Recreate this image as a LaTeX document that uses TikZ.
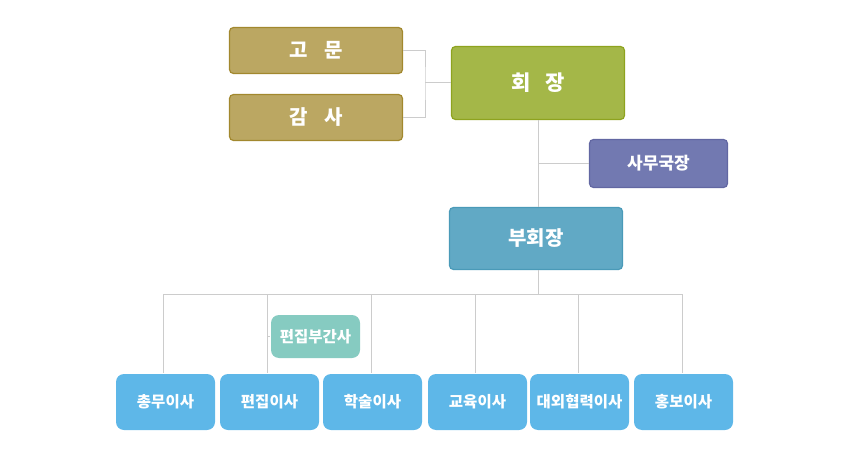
\documentclass[tikz,border=0pt]{standalone}
\usepackage{fontspec}
\setmainfont{Noto Sans CJK KR}
\usetikzlibrary{positioning}

\definecolor{gomun}{HTML}{BBA762}
\definecolor{gomunEdge}{HTML}{A2882E}
\definecolor{hoejang}{HTML}{A4B748}
\definecolor{hoejangEdge}{HTML}{8EA31F}
\definecolor{samu}{HTML}{7279B1}
\definecolor{samuEdge}{HTML}{6267A2}
\definecolor{buhoe}{HTML}{61A9C5}
\definecolor{buhoeEdge}{HTML}{4A9AB8}
\definecolor{ganSa}{HTML}{86CBC1}
\definecolor{isa}{HTML}{5EB7E8}
\definecolor{wire}{HTML}{CCCCCC}

\tikzset{every picture/.style={line width=0.75pt}}
\tikzset{
  box/.style={rectangle, rounded corners=4pt, text=white, font=\bfseries, inner sep=0pt, line width=1.2pt},
  topbox/.style={box, fill=gomun, draw=gomunEdge, minimum width=173pt, minimum height=46pt, font=\bfseries\fontsize{20}{24}\selectfont},
  isabox/.style={box, fill=isa, rounded corners=8pt, minimum width=99pt, minimum height=56pt, font=\bfseries\fontsize{15.5}{18}\selectfont},
  wireline/.style={draw=wire, line width=1pt}
}

\begin{document}
\begin{tikzpicture}[x=1pt,y=1pt,yscale=-1,xscale=1]
\useasboundingbox (0,0) rectangle (850,470);

% Top boxes
\node [topbox] (gomun) at (316,50.5) {고\hspace{0.85em}문};
\node [topbox] (gamsa) at (316,117.5) {감\hspace{0.85em}사};
\node [box, fill=hoejang, draw=hoejangEdge, minimum width=173pt, minimum height=73pt, font=\bfseries\fontsize{21}{25}\selectfont] (hoejang) at (538,83) {회\hspace{0.7em}장};
\node [box, fill=samu, draw=samuEdge, minimum width=138pt, minimum height=48pt, font=\bfseries\fontsize{17}{20}\selectfont] (samu) at (658.5,163.5) {사무국장};
\node [box, fill=buhoe, draw=buhoeEdge, minimum width=173pt, minimum height=62pt, font=\bfseries\fontsize{20}{24}\selectfont] (buhoe) at (536,238.5) {부회장};
\node [box, fill=ganSa, draw=none, rounded corners=8pt, minimum width=89pt, minimum height=43pt, font=\bfseries\fontsize{15.5}{18}\selectfont] (gansa) at (315.5,336.5) {편집부간사};

% Bottom row
\node [isabox] (isa1) at (165.5,402) {총무이사};
\node [isabox] (isa2) at (269.5,402) {편집이사};
\node [isabox] (isa3) at (372.5,402) {학술이사};
\node [isabox] (isa4) at (477.5,402) {교육이사};
\node [isabox] (isa5) at (579.5,402) {대외협력이사};
\node [isabox] (isa6) at (683.5,402) {홍보이사};

% Connectors
\coordinate (gj) at (425,83);
\coordinate (bus) at (538,294);
\draw [wireline] (gomun.east) -| (gj) |- (gamsa.east);
\draw [wireline] (gj) -- (hoejang.west);
\draw [wireline] (hoejang.south) |- (samu.west);
\draw [wireline] (hoejang.south) -- (buhoe.north -| hoejang.south);
\draw [wireline] (buhoe.south -| hoejang.south) -- (bus);
\draw [wireline] (163,294) -- (682,294);
\foreach \n/\x in {isa1/163, isa2/267, isa3/371, isa4/475, isa5/578, isa6/682}
  \draw [wireline] (\x,294) -- (\x,0 |- \n.north);
\draw [wireline] (267,336.5) -- (gansa.west);
\end{tikzpicture}
\end{document}
